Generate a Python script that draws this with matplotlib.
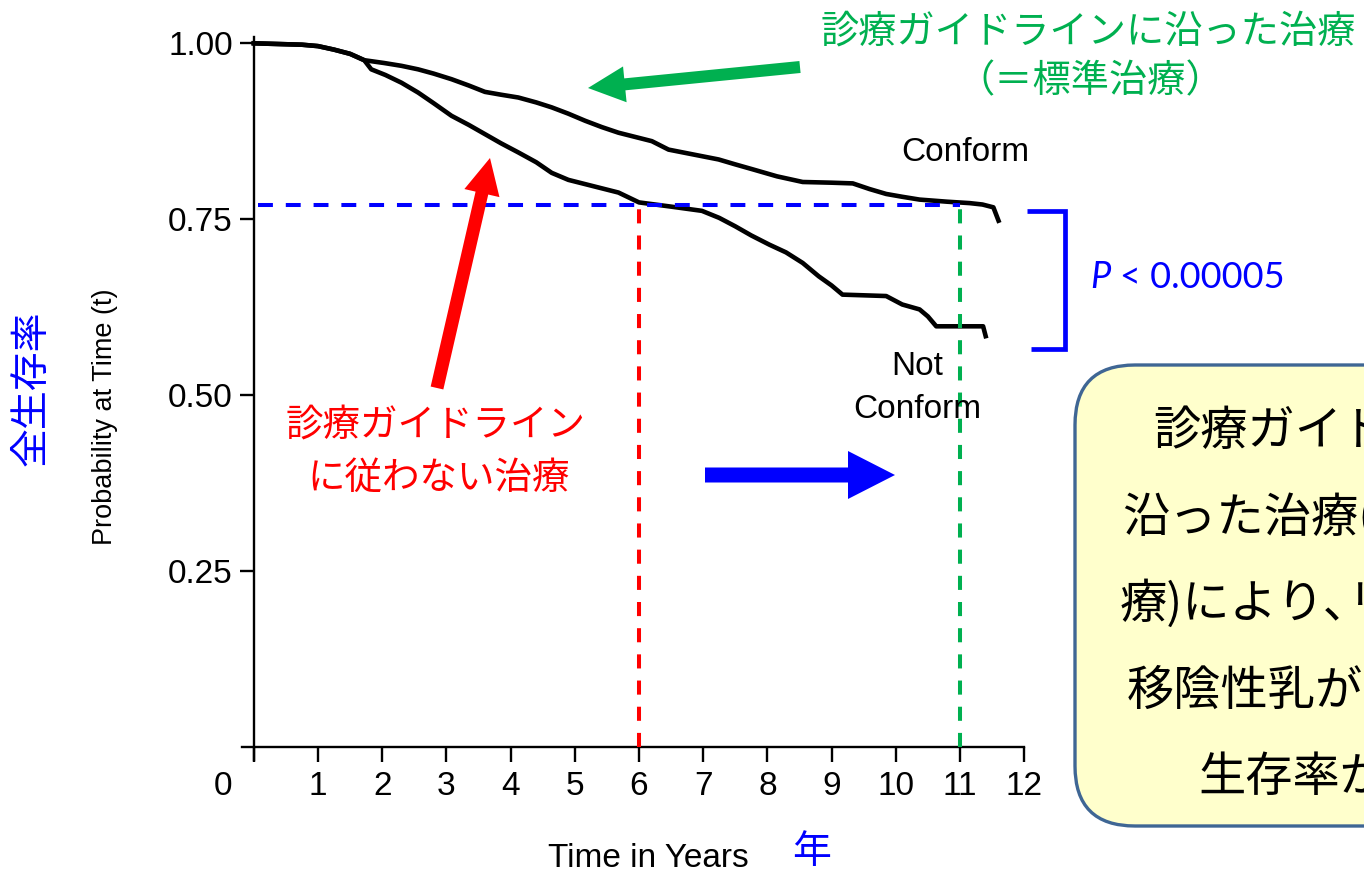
import matplotlib
matplotlib.use('Agg')
import matplotlib.pyplot as plt
from matplotlib.patches import FancyBboxPatch, FancyArrow

# ---------------- data ----------------
conform_t = [0, 0.75, 1.0, 1.25, 1.5, 1.72, 2.03, 2.3, 2.56, 2.8, 3.08, 3.35, 3.6, 3.85,
             4.12, 4.4, 4.64, 4.9, 5.16, 5.42, 5.68, 5.94, 6.2, 6.46, 6.85, 7.24, 7.5,
             7.77, 8.15, 8.55, 9.0, 9.33, 9.59, 9.85, 10.1, 10.37, 10.8, 11.15, 11.35,
             11.52, 11.6]
conform_s = [1.0, 0.998, 0.996, 0.991, 0.985, 0.976, 0.972, 0.968, 0.963, 0.957, 0.949,
             0.940, 0.931, 0.927, 0.923, 0.916, 0.909, 0.900, 0.890, 0.881, 0.873, 0.867,
             0.861, 0.849, 0.842, 0.835, 0.828, 0.821, 0.811, 0.803, 0.802, 0.801, 0.793,
             0.786, 0.782, 0.778, 0.775, 0.773, 0.771, 0.767, 0.748]

notconf_t = [0, 0.75, 1.0, 1.25, 1.5, 1.72, 1.83, 2.05, 2.3, 2.56, 2.8, 3.08, 3.35, 3.6,
             3.85, 4.12, 4.4, 4.64, 4.9, 5.16, 5.42, 5.68, 6.0, 6.5, 6.98, 7.25, 7.5,
             7.75, 8.03, 8.29, 8.55, 8.8, 9.0, 9.17, 9.85, 10.1, 10.37, 10.5, 10.63,
             11.36, 11.4]
notconf_s = [1.0, 0.998, 0.996, 0.991, 0.985, 0.976, 0.963, 0.955, 0.944, 0.930, 0.915,
             0.897, 0.884, 0.871, 0.858, 0.845, 0.831, 0.816, 0.806, 0.800, 0.794, 0.788,
             0.774, 0.768, 0.762, 0.752, 0.740, 0.727, 0.714, 0.703, 0.688, 0.669, 0.656,
             0.643, 0.641, 0.629, 0.622, 0.612, 0.598, 0.598, 0.584]

x_ticks = list(range(0, 13))
x_tick_labels = [''] + [str(i) for i in range(1, 13)]
y_ticks = [0.25, 0.50, 0.75, 1.00]
y_tick_labels = ['0.25', '0.50', '0.75', '1.00']

ref_surv = 0.770        # horizontal reference level
ref_t_notconf = 6.0     # time the non-conform curve reaches it
ref_t_conform = 11.0    # time the conform curve reaches it

label_conform = 'Conform'
label_notconf = ['Not', 'Conform']
green_text = ['診療ガイドラインに沿った治療', '（＝標準治療）']
red_text = ['診療ガイドライン', 'に従わない治療']
p_text = '< 0.00005'
x_label = 'Time in Years'
x_label_jp = '年'
y_label = 'Probability at Time (t)'
y_label_jp = '全生存率'
box_lines = ['診療ガイド', '沿った治療(', '療)により､リ', '移陰性乳が', '生存率が']

# ---------------- styling ----------------
GREEN = '#00B050'
RED = '#FF0000'
BLUE = '#0000FF'
LAT = ['Liberation Sans', 'DejaVu Sans']
JP = ['Noto Sans CJK JP', 'DejaVu Sans']
plt.rcParams['font.family'] = LAT

W, H = 1364, 873
fig = plt.figure(figsize=(W / 100, H / 100), dpi=100)

x0px, pxyr = 253.8, 64.2      # pixel of t=0, pixels per year
y0px, pxunit = 747.3, 704.0   # pixel of p=0, pixels per 1.0
xlim = (-0.5, 12.5)
ylim = (-0.05, 1.05)
left_px = x0px + xlim[0] * pxyr
right_px = x0px + xlim[1] * pxyr
top_px = y0px - ylim[1] * pxunit
bot_px = y0px - ylim[0] * pxunit
ax = fig.add_axes([left_px / W, 1 - bot_px / H, (right_px - left_px) / W, (bot_px - top_px) / H])
ax.set_xlim(*xlim)
ax.set_ylim(*ylim)
ax.patch.set_alpha(0)

for s in ['top', 'right']:
    ax.spines[s].set_visible(False)
ax.spines['left'].set_position(('data', 0))
ax.spines['bottom'].set_position(('data', 0))
ax.spines['left'].set_bounds(-0.018, 1.009)
ax.spines['bottom'].set_bounds(-0.19, 12.0)
for s in ['left', 'bottom']:
    ax.spines[s].set_linewidth(1.7)

ax.set_xticks(x_ticks)
ax.set_xticklabels(x_tick_labels)
ax.set_yticks(y_ticks)
ax.set_yticklabels(y_tick_labels)
ax.tick_params(axis='both', direction='out', width=1.7, labelsize=24, colors='black')
ax.tick_params(axis='x', length=11, pad=6)
ax.tick_params(axis='y', length=10, pad=5)
ax.annotate('0', xy=(-0.48, 0), xycoords='data', xytext=(0, -17), textcoords='offset points',
            ha='center', va='top', fontsize=24)

# survival curves
ax.plot(conform_t, conform_s, color='black', lw=3.3, zorder=3, solid_joinstyle='round')
ax.plot(notconf_t, notconf_s, color='black', lw=3.3, zorder=3, solid_joinstyle='round')

# reference dashed lines
ax.plot([0.07, ref_t_conform], [ref_surv, ref_surv], color=BLUE, lw=2.9,
        dashes=(3.7, 3.2), zorder=4)
ax.plot([ref_t_notconf, ref_t_notconf], [0, ref_surv], color=RED, lw=2.9,
        dashes=(3.5, 3.0), zorder=4)
ax.plot([ref_t_conform, ref_t_conform], [0, ref_surv], color=GREEN, lw=2.9,
        dashes=(3.5, 3.0), zorder=4)

# ---------------- overlay in pixel coordinates ----------------
ov = fig.add_axes([0, 0, 1, 1], zorder=5)
ov.set_xlim(0, W)
ov.set_ylim(H, 0)
ov.axis('off')
ov.patch.set_alpha(0)

# curve labels
ov.text(965, 161, label_conform, ha='center', va='baseline', fontsize=24, family=LAT)
ov.text(917, 375, label_notconf[0], ha='center', va='baseline', fontsize=24, family=LAT)
ov.text(917, 418, label_notconf[1], ha='center', va='baseline', fontsize=24, family=LAT)

# green annotation
ov.text(1088, 32, green_text[0], ha='center', va='center', fontsize=27.5, color=GREEN, family=JP)
ov.text(1090, 82, green_text[1], ha='center', va='center', fontsize=27.5, color=GREEN, family=JP)
ov.add_patch(FancyArrow(800, 67, 588 - 800, 88 - 67, width=12, head_width=36, head_length=37,
                        length_includes_head=True, color=GREEN, lw=0))

# red annotation
ov.text(436, 425, red_text[0], ha='center', va='center', fontsize=27, color=RED, family=JP)
ov.text(439, 478, red_text[1], ha='center', va='center', fontsize=27, color=RED, family=JP)
ov.add_patch(FancyArrow(437, 388, 490 - 437, 158 - 388, width=13, head_width=36, head_length=36,
                        length_includes_head=True, color=RED, lw=0))

# blue arrow
ov.add_patch(FancyArrow(705, 475, 895 - 705, 0, width=15, head_width=48, head_length=47,
                        length_includes_head=True, color=BLUE, lw=0))

# bracket and p-value
ov.plot([1027, 1065, 1065, 1031], [210.5, 210.5, 349, 349], color=BLUE, lw=3.4,
        solid_joinstyle='miter', solid_capstyle='butt')
ov.text(1090, 288, 'P', ha='left', va='baseline', fontsize=26, color=BLUE,
        family=['Lato', 'DejaVu Sans'], style='italic')
ov.text(1120, 288, p_text, ha='left', va='baseline', fontsize=26, color=BLUE,
        family=['Lato', 'DejaVu Sans'])

# axis titles
ov.text(648, 867, x_label, ha='center', va='baseline', fontsize=24, family=LAT)
ov.text(812, 852, x_label_jp, ha='center', va='center', fontsize=28, color=BLUE, family=JP)
ov.text(105, 417, y_label, ha='center', va='center', rotation=90, fontsize=19.5, family=LAT)
ov.text(32, 388, y_label_jp, ha='center', va='center', rotation=90, fontsize=28, color=BLUE, family=JP)

# summary box (cut by the right edge, as in the reference)
box = FancyBboxPatch((1075, 365), 400, 461, boxstyle='round,pad=0,rounding_size=60',
                     facecolor='#FFFFCC', edgecolor='#3F6694', lw=2.4, zorder=1)
ov.add_patch(box)
box_x = [1153, 1122, 1120, 1127, 1198]
box_y = [432, 518, 605, 692, 778]
for txt, x, y in zip(box_lines, box_x, box_y):
    ov.text(x, y, txt, ha='left', va='center', fontsize=34, color='black', family=JP,
            zorder=2, clip_on=True)

fig.savefig('out.png', dpi=100)
